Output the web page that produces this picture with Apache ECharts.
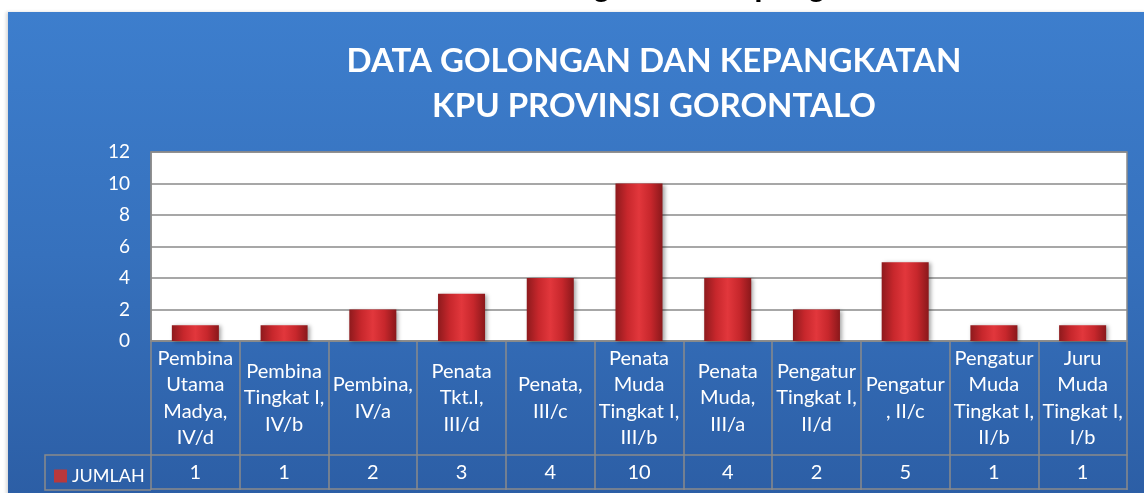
<!DOCTYPE html>
<html>
<head>
<meta charset="utf-8">
<script src="https://cdn.jsdelivr.net/npm/echarts@6/dist/echarts.min.js"></script>
<style>
  html, body { margin: 0; padding: 0; background: #fff; }
  #wrap { position: relative; width: 1144px; height: 493px; overflow: hidden; }
  #panel {
    position: absolute; left: 8px; top: 12px; width: 1140px; height: 485px;
    background: linear-gradient(to bottom, #3d7ecd 0%, #3671bd 50%, #2c5ea5 100%);
    box-shadow: -2px 0 3px rgba(0,0,0,0.15);
  }
  #chart { position: absolute; left: 0; top: 0; width: 1144px; height: 493px; }
</style>
</head>
<body>
<div id="wrap">
  <div id="panel"></div>
  <div id="chart"></div>
</div>
<script>
// data
const categories = [
  "Pembina Utama Madya, IV/d",
  "Pembina Tingkat I, IV/b",
  "Pembina, IV/a",
  "Penata Tkt.I, III/d",
  "Penata, III/c",
  "Penata Muda Tingkat I, III/b",
  "Penata Muda, III/a",
  "Pengatur Tingkat I, II/d",
  "Pengatur, II/c",
  "Pengatur Muda Tingkat I, II/b",
  "Juru Muda Tingkat I, I/b"
];
// wrapped labels as shown in the table cells
const categoryLabels = [
  "Pembina\nUtama\nMadya,\nIV/d",
  "Pembina\nTingkat I,\nIV/b",
  "Pembina,\nIV/a",
  "Penata\nTkt.I,\nIII/d",
  "Penata,\nIII/c",
  "Penata\nMuda\nTingkat I,\nIII/b",
  "Penata\nMuda,\nIII/a",
  "Pengatur\nTingkat I,\nII/d",
  "Pengatur\n, II/c",
  "Pengatur\nMuda\nTingkat I,\nII/b",
  "Juru\nMuda\nTingkat I,\nI/b"
];
const jumlah = [1, 1, 2, 3, 4, 10, 4, 2, 5, 1, 1];
const seriesName = "JUMLAH";
const titleLines = ["DATA GOLONGAN DAN KEPANGKATAN", "KPU PROVINSI GORONTALO"];

const FONT = "Lato";
const LINE = "#8a8a8a";

const chart = echarts.init(document.getElementById("chart"), null, { renderer: "canvas" });

const option = {
  backgroundColor: "transparent",
  animation: false,
  textStyle: { fontFamily: FONT },
  legend: {
    data: [{ name: seriesName, itemStyle: { color: "#b8383c" } }],
    left: 49,
    top: 462,
    icon: "rect",
    itemWidth: 13,
    itemHeight: 13,
    itemGap: 4,
    textStyle: { color: "#fff", fontSize: 18, fontFamily: FONT }
  },
  grid: {
    left: 151,
    right: 17,
    top: 152,
    bottom: 152,
    show: true,
    backgroundColor: "#fff",
    borderColor: LINE,
    borderWidth: 1.5
  },
  xAxis: [
    {
      type: "category",
      data: categories,
      position: "bottom",
      axisLine: { lineStyle: { color: LINE, width: 1.5 } },
      axisTick: { show: true, length: 149, lineStyle: { color: LINE, width: 1.5 } },
      axisLabel: {
        interval: 0,
        color: "#fff",
        fontSize: 20,
        fontFamily: FONT,
        lineHeight: 26.5,
        margin: 57,
        verticalAlign: "middle",
        formatter: (v, i) => categoryLabels[i]
      }
    },
    {
      type: "category",
      data: categories,
      position: "bottom",
      offset: 114,
      axisLine: { lineStyle: { color: LINE, width: 1.5 } },
      axisTick: { show: false },
      axisLabel: {
        interval: 0,
        color: "#fff",
        fontSize: 20,
        fontFamily: FONT,
        margin: 18,
        verticalAlign: "middle",
        formatter: (v, i) => String(jumlah[i])
      }
    },
    {
      type: "category",
      data: categories,
      position: "bottom",
      offset: 148,
      axisLine: { lineStyle: { color: LINE, width: 1.5 } },
      axisTick: { show: false },
      axisLabel: { show: false }
    }
  ],
  yAxis: {
    type: "value",
    min: 0,
    max: 12,
    interval: 2,
    axisLine: { show: true, lineStyle: { color: LINE, width: 1.5 } },
    axisTick: { show: false },
    axisLabel: { color: "#fff", fontSize: 19, fontFamily: FONT, margin: 21 },
    splitLine: { lineStyle: { color: LINE, width: 1.5 } }
  },
  graphic: [
    {
      type: "polyline",
      shape: { points: [[151, 455], [45, 455], [45, 490], [151, 490]] },
      style: { stroke: LINE, lineWidth: 1.5, fill: null }
    },
    {
      type: "text",
      x: 654, y: 61,
      style: {
        text: titleLines[0], fill: "#fff", font: "bold 33px Lato",
        align: "center", verticalAlign: "middle"
      }
    },
    {
      type: "text",
      x: 654, y: 106,
      style: {
        text: titleLines[1], fill: "#fff", font: "bold 33px Lato",
        align: "center", verticalAlign: "middle"
      }
    },
    {
      // title above the panel, cut off at the top of the picture
      type: "text",
      x: 705, y: 3,
      style: {
        text: "Golongan dan Kepangkatan", fill: "#000", font: "bold 30px 'Liberation Sans'",
        align: "center", verticalAlign: "bottom"
      }
    }
  ],
  series: [
    {
      name: seriesName,
      type: "bar",
      barWidth: "53%",
      data: jumlah,
      itemStyle: {
        color: new echarts.graphic.LinearGradient(0, 0, 1, 0, [
          { offset: 0, color: "#8e1a1d" },
          { offset: 0.25, color: "#c7272c" },
          { offset: 0.5, color: "#e2373c" },
          { offset: 0.75, color: "#c7272c" },
          { offset: 1, color: "#8a181b" }
        ]),
        shadowColor: "rgba(0,0,0,0.35)",
        shadowBlur: 4,
        shadowOffsetX: 2,
        shadowOffsetY: 1
      }
    }
  ]
};

chart.setOption(option);
window.addEventListener("resize", () => chart.resize());
</script>
</body>
</html>
